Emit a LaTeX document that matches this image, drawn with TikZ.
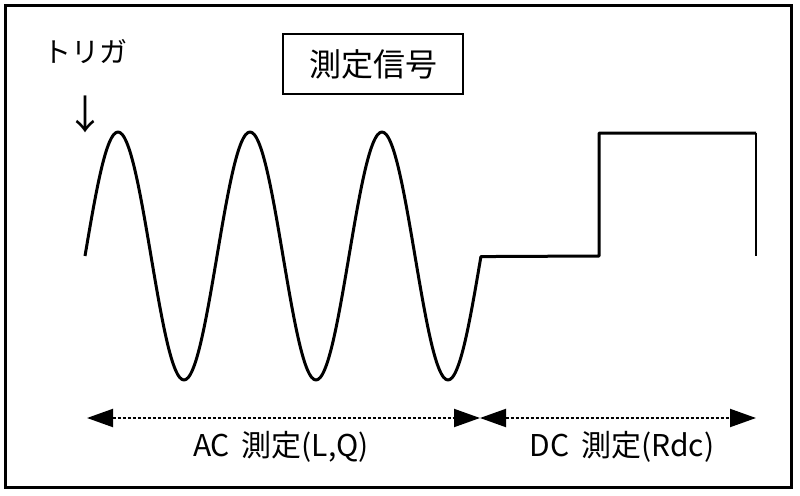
\documentclass[tikz,border=0pt]{standalone}
\usepackage{fontspec}
\setmainfont{Noto Sans CJK JP}
\usetikzlibrary{arrows.meta,positioning}

\begin{document}
\begin{tikzpicture}[x=1pt, y=-1pt, node distance=62pt,
  lbl/.style={font=\fontsize{28pt}{30pt}\selectfont, inner sep=0pt},
  sub/.style={font=\fontsize{30pt}{32pt}\selectfont, inner sep=0pt},
  wave/.style={line width=3pt, line join=round},
  span/.style={{Triangle[length=26pt,width=18pt]}-{Triangle[length=26pt,width=18pt]},
    line width=2pt, dash pattern=on 3.5pt off 1.5pt}]
  \useasboundingbox (0,0) rectangle (800,495);
  \draw[line width=3pt] (5,6) rectangle (791,487);
  \node(title)[draw, line width=2pt, minimum width=180pt, minimum height=60pt,
    font=\fontsize{32pt}{34pt}\selectfont] at (373,64) {測定信号};
  \node(trig)[lbl] at (85,52) {トリガ};
  \node(mark)[lbl, below of=trig, font=\fontsize{40pt}{42pt}\selectfont] {↓};
  % signal: three sine periods, then the two dc levels
  \draw[wave] plot[domain=0:3, samples=181, smooth] ({85+132*\x}, {256-124*sin(360*\x)})
    -- (599,256) -- (599,133) -- (756,133);
  \draw[line width=2pt] (756,133) -- (756,256);
  \coordinate(acL) at (87,418);
  \coordinate(acdc) at (480,418);
  \coordinate(dcR) at (756,418);
  \draw[span] (acL) -- (acdc);
  \draw[span] (acdc) -- (dcR);
  \node(ac)[sub] at (281,447) {AC\, 測定(L,Q)};
  \node(dc)[sub] at (622,447) {DC\, 測定(Rdc)};
\end{tikzpicture}
\end{document}
